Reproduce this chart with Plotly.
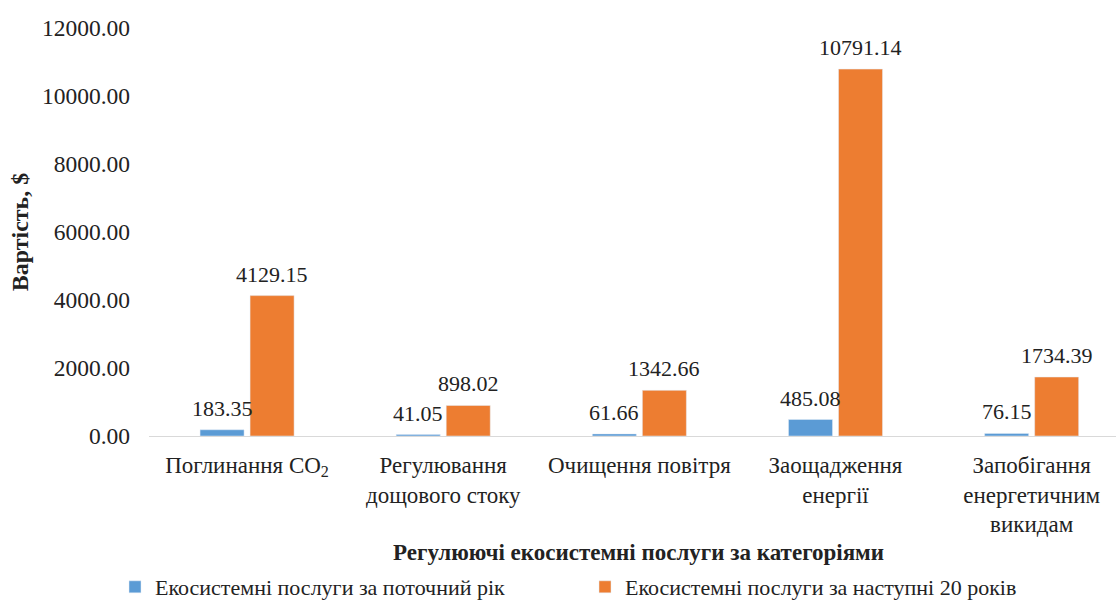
import plotly.graph_objects as go

categories = ["Поглинання CO<sub>2</sub>", "Регулювання<br>дощового стоку", "Очищення повітря",
              "Заощадження<br>енергії", "Запобігання<br>енергетичним<br>викидам"]
current_year = [183.35, 41.05, 61.66, 485.08, 76.15]
next_20_years = [4129.15, 898.02, 1342.66, 10791.14, 1734.39]
series_names = ["Екосистемні послуги за поточний рік", "Екосистемні послуги за наступні 20 років"]
tick_vals = [0, 2000, 4000, 6000, 8000, 10000, 12000]
tick_text = ["0.00", "2000.00", "4000.00", "6000.00", "8000.00", "10000.00", "12000.00"]

FONT = "Liberation Serif, DejaVu Serif, serif"
TXT = "#222222"
BARGAP = 0.49
BARGROUPGAP = 0.12
x_idx = list(range(len(categories)))
slot = (1 - BARGAP) / 2

fig = go.Figure()
fig.add_trace(go.Bar(x=x_idx, y=current_year, name=series_names[0], marker_color="#5B9BD5"))
fig.add_trace(go.Bar(x=x_idx, y=next_20_years, name=series_names[1], marker_color="#ED7D31"))

annotations = []
for series, off in ((current_year, -slot / 2), (next_20_years, slot / 2)):
    for i, v in zip(x_idx, series):
        annotations.append(dict(x=i + off, y=v, xref="x", yref="y", text=f"{v:.2f}",
                                showarrow=False, yanchor="bottom", yshift=7,
                                font=dict(family=FONT, size=22, color=TXT)))

annotations.append(dict(text="<b>Регулюючі екосистемні послуги за категоріями</b>",
                        xref="paper", yref="paper", x=(638 - 149) / 967, y=-0.285,
                        xanchor="center", yanchor="middle", showarrow=False,
                        font=dict(family=FONT, size=23, color=TXT)))

fig.update_layout(
    width=1116, height=608,
    margin=dict(l=149, r=0, t=28, b=172),
    paper_bgcolor="white", plot_bgcolor="white",
    barmode="group", bargap=BARGAP, bargroupgap=BARGROUPGAP,
    font=dict(family=FONT, size=22, color=TXT),
    showlegend=True,
    legend=dict(orientation="h", x=115 / 1116, xanchor="left", xref="container",
                y=-0.012, yanchor="bottom", yref="container",
                font=dict(family=FONT, size=22, color=TXT),
                itemwidth=30, entrywidth=425, traceorder="normal"),
    xaxis=dict(tickmode="array", tickvals=x_idx, ticktext=categories, range=[-0.5, 4.43],
               showline=True, linecolor="#D9D9D9", linewidth=1, ticks="", showgrid=False,
               ticklabelstandoff=8,
               tickfont=dict(family=FONT, size=23, color=TXT), zeroline=False),
    yaxis=dict(range=[0, 12000], tickvals=tick_vals, ticktext=tick_text, showgrid=False,
               zeroline=False, showline=False, ticks="", ticklabelstandoff=18,
               tickfont=dict(family=FONT, size=23.5, color=TXT),
               title=dict(text="<b>Вартість, $</b>", font=dict(family=FONT, size=24, color=TXT),
                          standoff=6)),
    annotations=annotations,
)

fig.write_html("out.html")
